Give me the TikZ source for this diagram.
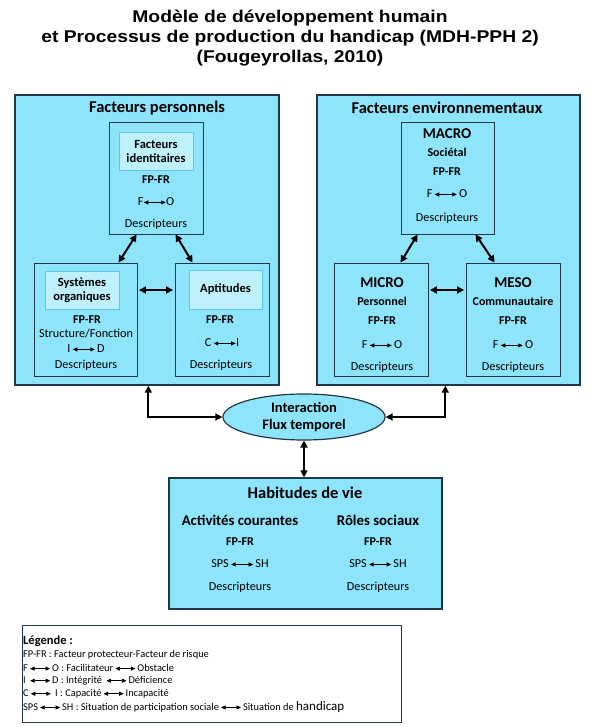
\documentclass[tikz,border=0pt]{standalone}
\usepackage{fontspec}
\setmainfont{Carlito}
\newfontfamily\arialfont{Liberation Sans}
\usetikzlibrary{arrows.meta,shapes.geometric}

\definecolor{bleu}{RGB}{142,228,250}
\definecolor{bleuclair}{RGB}{190,241,252}
\definecolor{bord}{RGB}{35,55,70}
\definecolor{bordclair}{RGB}{95,198,228}

% petite fleche double dans le texte
\newcommand{\fleche}[1][22]{\tikz[baseline=-0.6ex,x=1pt,y=1pt]\draw[line width=0.6pt,{Triangle[length=4.5pt,width=4pt]}-{Triangle[length=4.5pt,width=4pt]}] (0,0) -- (#1,0);}
\newcommand{\etire}[1]{\scalebox{1.135}[1]{#1}}

\tikzset{
grand/.style={draw=bord,fill=bleu,line width=1.4pt,inner sep=0pt},
boite/.style={draw=bord,fill=bleu,line width=0.9pt,inner sep=0pt},
sous/.style={draw=bordclair,fill=bleuclair,line width=0.8pt,inner sep=0pt,align=center,font=\fontsize{12.5}{14}\selectfont\bfseries},
txt/.style={inner sep=0pt,font=\fontsize{12.2}{14}\selectfont},
gras/.style={inner sep=0pt,font=\fontsize{12}{14}\selectfont\bfseries},
niveau/.style={inner sep=0pt,font=\fontsize{15}{17}\selectfont\bfseries},
titre/.style={inner sep=0pt,font=\fontsize{16.5}{18}\selectfont\bfseries},
leg/.style={inner sep=0pt,anchor=west,font=\fontsize{10.4}{12}\selectfont},
fl/.style={{Triangle[length=7pt,width=7pt]}-{Triangle[length=7pt,width=7pt]},line width=2pt}
}

\begin{document}
\begin{tikzpicture}[x=1pt,y=-1pt]
\useasboundingbox (0,0) rectangle (594,727);

\node[inner sep=0pt,align=center,font=\arialfont\fontsize{17}{20}\selectfont\bfseries] (entete) at (290,38)
{\etire{Modèle de développement humain}\\\etire{et Processus de production du handicap (MDH-PPH 2)}\\\etire{(Fougeyrollas, 2010)}};

% Facteurs personnels
\node[grand,minimum width=264pt,minimum height=290pt] (pers) at (147,240) {};
\node[titre] at (157,108) {Facteurs personnels};
\node[boite,minimum width=94pt,minimum height=112pt] (ident) at (156,178) {};
\node[sous,minimum width=74pt,minimum height=38pt] (identsous) at (156,151) {Facteurs\\identitaires};
\node[gras] at (156,180) {FP-FR};
\node[txt] at (156,202) {F\fleche O};
\node[txt] at (156,224) {Descripteurs};
\node[boite,minimum width=103pt,minimum height=113pt] (syst) at (85.5,319.5) {};
\node[sous,minimum width=74pt,minimum height=38pt] (systsous) at (82,290) {Systèmes\\organiques};
\node[gras] at (87,320) {FP-FR};
\node[txt] at (86,334) {Structure/Fonction};
\node[txt] at (86,349) {I\,\fleche\,D};
\node[txt] at (86,365) {Descripteurs};
\node[boite,minimum width=94pt,minimum height=113pt] (apt) at (222,319.5) {};
\node[sous,minimum width=73pt,minimum height=39pt] (aptsous) at (225.5,289.5) {Aptitudes};
\node[gras] at (220,320) {FP-FR};
\node[txt] at (222,343) {C\,\fleche I};
\node[txt] at (221,365) {Descripteurs};

% Facteurs environnementaux
\node[grand,minimum width=263pt,minimum height=290pt] (env) at (448.5,240) {};
\node[titre] at (447,108) {Facteurs environnementaux};
\node[boite,minimum width=93pt,minimum height=112pt] (macro) at (447.5,178) {};
\node[niveau] at (447,134) {MACRO};
\node[gras] at (447,152) {Sociétal};
\node[gras] at (447,172) {FP-FR};
\node[txt] at (447,194) {F\,\fleche\,O};
\node[txt] at (447,218) {Descripteurs};
\node[boite,minimum width=94pt,minimum height=113pt] (micro) at (381,319.5) {};
\node[niveau] at (382,283) {MICRO};
\node[gras] at (382,301) {Personnel};
\node[gras] at (382,321) {FP-FR};
\node[txt] at (382,345) {F\,\fleche\,O};
\node[txt] at (382,367) {Descripteurs};
\node[boite,minimum width=94pt,minimum height=113pt] (meso) at (513,319.5) {};
\node[niveau] at (513,283) {MESO};
\node[gras] at (513,301) {Communautaire};
\node[gras] at (513,321) {FP-FR};
\node[txt] at (513,345) {F\,\fleche\,O};
\node[txt] at (513,367) {Descripteurs};

% Interaction
\node[ellipse,draw=bord,fill=bleu,line width=1.2pt,minimum width=162pt,minimum height=46pt,inner sep=0pt,
align=center,font=\fontsize{14.5}{17}\selectfont\bfseries] (inter) at (304,417) {Interaction\\Flux temporel};

% Habitudes de vie
\node[grand,minimum width=273pt,minimum height=131pt] (hab) at (305.5,543.5) {};
\node[titre] at (305,493) {Habitudes de vie};
\node[gras,font=\fontsize{14.8}{16}\selectfont\bfseries] at (240,520) {Activités courantes};
\node[gras,font=\fontsize{14.8}{16}\selectfont\bfseries] at (378,520) {Rôles sociaux};
\node[gras] at (240,542) {FP-FR};
\node[gras] at (378,542) {FP-FR};
\node[txt] at (240,564) {SPS\,\fleche\,SH};
\node[txt] at (378,564) {SPS\,\fleche\,SH};
\node[txt] at (240,587) {Descripteurs};
\node[txt] at (378,587) {Descripteurs};

% fleches
\draw[fl] ([xshift=28pt]ident.south west) -- ([xshift=85pt]syst.north west);
\draw[fl] ([xshift=67pt]ident.south west) -- ([xshift=18pt]apt.north west);
\draw[fl,shorten <=1.5pt,shorten >=1.5pt] (syst.east |- systsous.east) -- (apt.west |- systsous.east);
\draw[fl] ([xshift=17pt]macro.south west) -- ([xshift=67pt]micro.north west);
\draw[fl] ([xshift=75pt]macro.south west) -- ([xshift=29pt]meso.north west);
\draw[fl,shorten <=1.5pt,shorten >=1.5pt] (micro.east |- systsous.east) -- (meso.west |- systsous.east);
\draw[fl] ([xshift=134pt]pers.south west) |- (inter.west);
\draw[fl] ([xshift=129pt]env.south west) |- (inter.east);
\draw[fl] (inter.south) -- (inter.south |- hab.north);

% Legende
\node[draw=bord,line width=0.8pt,minimum width=379pt,minimum height=97pt,inner sep=0pt] (legende) at (211.5,673.5) {};
\node[leg,font=\fontsize{12.5}{14}\selectfont\bfseries] at (23,641) {Légende :};
\node[leg] at (23,655) {FP-FR : Facteur protecteur-Facteur de risque};
\node[leg] at (23,668) {F\,\fleche[20]\,O : Facilitateur\,\fleche[20]\,Obstacle};
\node[leg] at (23,681) {I \,\fleche[20]\,D : Intégrité \,\fleche[20]\,Déficience};
\node[leg] at (23,694) {C\,\fleche[20]\, I : Capacité\,\fleche[20]\,Incapacité};
\node[leg] at (23,707) {SPS\,\fleche[20]\,SH : Situation de participation sociale\,\fleche[20]\,Situation de {\fontsize{13}{14}\selectfont handicap}};
\end{tikzpicture}
\end{document}
